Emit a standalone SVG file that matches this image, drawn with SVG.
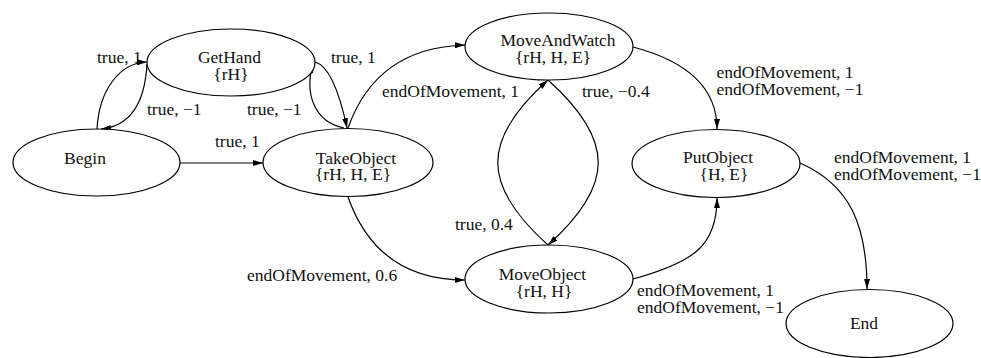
<svg xmlns="http://www.w3.org/2000/svg" width="981" height="358" viewBox="0 0 981 358">
  <style>
    .node ellipse { fill: #ffffff; stroke: #000000; stroke-width: 1.2; }
    .node text, .lbl { font-family: "Liberation Serif", "Times New Roman", serif; font-size: 17.5px; fill: #111111; }
    .node text { text-anchor: middle; }
    .edge { fill: none; stroke: #000000; stroke-width: 1.2; marker-end: url(#arrow); }
  </style>
  <defs>
    <marker id="arrow" markerUnits="userSpaceOnUse" markerWidth="10" markerHeight="6" viewBox="0 0 10 6" refX="10" refY="3" orient="auto">
      <path d="M0,0 L10,3 L0,6 z" fill="#000000"/>
    </marker>
  </defs>
  <rect x="0" y="0" width="981" height="358" fill="#ffffff"/>

  <g id="connectors">
    <path class="edge" d="M97,129 C99,92 118,63 147,62"/>
    <path class="edge" d="M147,64 C145,100 132,126 101,129"/>
    <path class="edge" d="M180,163 L263,163"/>
    <path class="edge" d="M315,62 C330,66 340,95 347,128"/>
    <path class="edge" d="M344,128 C315,122 304,95 313,63"/>
    <path class="edge" d="M348,128 C365,80 400,47 465,45"/>
    <path class="edge" d="M548,245 C481,185 481,140 548,80"/>
    <path class="edge" d="M548,80 C615,140 615,185 548,245"/>
    <path class="edge" d="M348,197 C365,245 400,280 465,280"/>
    <path class="edge" d="M633,47 C690,62 717,90 717,129"/>
    <path class="edge" d="M633,279 C695,262 717,245 717,198"/>
    <path class="edge" d="M800,163 C850,185 867,225 867,289"/>
    <g id="edge-labels">
      <text class="lbl" x="97" y="62.5">true, 1</text>
      <text class="lbl" x="147" y="114.5">true, −1</text>
      <text class="lbl" x="247" y="114.5">true, −1</text>
      <text class="lbl" x="331" y="62.5">true, 1</text>
      <text class="lbl" x="215" y="147">true, 1</text>
      <text class="lbl" x="382" y="96.5">endOfMovement, 1</text>
      <text class="lbl" x="582" y="96.5">true, −0.4</text>
      <text class="lbl" x="455" y="230">true, 0.4</text>
      <text class="lbl" x="247" y="281">endOfMovement, 0.6</text>
      <text class="lbl" x="716.5" y="78">endOfMovement, 1</text>
      <text class="lbl" x="716.5" y="95">endOfMovement, −1</text>
      <text class="lbl" x="834" y="163">endOfMovement, 1</text>
      <text class="lbl" x="834" y="180">endOfMovement, −1</text>
      <text class="lbl" x="637" y="296">endOfMovement, 1</text>
      <text class="lbl" x="637" y="313">endOfMovement, −1</text>
    </g>
  </g>

  <g id="node-begin" class="node">
    <ellipse cx="96.5" cy="162.5" rx="83.5" ry="33.5"/>
    <text x="85" y="164">Begin</text>
  </g>
  <g id="node-gethand" class="node">
    <ellipse cx="231" cy="62.5" rx="84" ry="33.5"/>
    <text x="229.5" y="63">GetHand</text>
    <text x="231" y="80">{rH}</text>
  </g>
  <g id="node-takeobject" class="node">
    <ellipse cx="348" cy="162.5" rx="85" ry="34"/>
    <text x="356" y="163.5">TakeObject</text>
    <text x="353" y="180">{rH, H, E}</text>
  </g>
  <g id="node-moveandwatch" class="node">
    <ellipse cx="549" cy="46.5" rx="84" ry="33.5"/>
    <text x="558" y="46">MoveAndWatch</text>
    <text x="553" y="62.5">{rH, H, E}</text>
  </g>
  <g id="node-moveobject" class="node">
    <ellipse cx="549" cy="279" rx="84" ry="34"/>
    <text x="542.5" y="280">MoveObject</text>
    <text x="544" y="296.5">{rH, H}</text>
  </g>
  <g id="node-putobject" class="node">
    <ellipse cx="716" cy="163.5" rx="84" ry="34"/>
    <text x="718" y="163">PutObject</text>
    <text x="724" y="179.5">{H, E}</text>
  </g>
  <g id="node-end" class="node">
    <ellipse cx="869.5" cy="323.5" rx="83.5" ry="34"/>
    <text x="864" y="329">End</text>
  </g>
</svg>
